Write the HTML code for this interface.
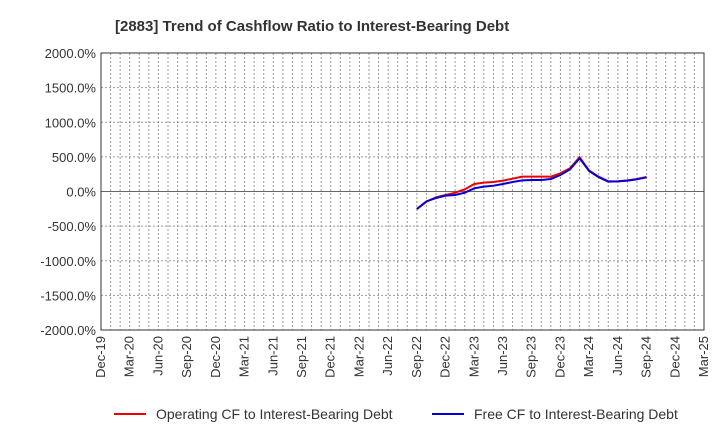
<!DOCTYPE html>
<html><head><meta charset="utf-8"><style>body{margin:0;background:#fff;}svg text{font-family:"Liberation Sans",Arial,sans-serif;}</style></head>
<body>
<svg id="chart" width="720" height="440" xmlns="http://www.w3.org/2000/svg">
<text x="115" y="31" font-size="15" font-weight="bold" fill="#333">[2883]  Trend of Cashflow Ratio to Interest-Bearing Debt</text>
<g id="grid"></g><g id="axes"></g><g id="series"></g>
<g>
<line x1="114" y1="414" x2="146" y2="414" stroke="#e00" stroke-width="2"/>
<text x="156" y="419" font-size="14" fill="#333">Operating CF to Interest-Bearing Debt</text>
<line x1="432" y1="414" x2="464" y2="414" stroke="#00d" stroke-width="2"/>
<text x="474" y="419" font-size="14" fill="#333">Free CF to Interest-Bearing Debt</text>
</g>
</svg>
<script>
const yTicks=[2000,1500,1000,500,0,-500,-1000,-1500,-2000];
const xLabels=["Dec-19","Mar-20","Jun-20","Sep-20","Dec-20","Mar-21","Jun-21","Sep-21","Dec-21","Mar-22","Jun-22","Sep-22","Dec-22","Mar-23","Jun-23","Sep-23","Dec-23","Mar-24","Jun-24","Sep-24","Dec-24","Mar-25"];
const startMonth=33;
const operatingCF=[-253,-147,-84,-51,-17,31,108,128,137,157,185,214,214,214,214,263,335,494,301,214,147,147,161,181,210];
const freeCF=[-253,-142,-94,-60,-51,-17,46,70,84,108,137,161,166,166,181,238,320,479,296,205,142,147,157,176,205];
const L=101,R=704,T=53,B=330,NM=63;
const NS="http://www.w3.org/2000/svg";
const xS=m=>L+(R-L)*m/NM;
const yS=v=>T+(B-T)*(2000-v)/4000;
function mk(t,a,p){const e=document.createElementNS(NS,t);for(const k in a)e.setAttribute(k,a[k]);p.appendChild(e);return e;}
const grid=document.getElementById('grid'),axes=document.getElementById('axes'),ser=document.getElementById('series');
for(let m=1;m<NM;m++){const l=mk('line',{x1:xS(m),x2:xS(m),y1:T,y2:B,stroke:'#999','stroke-dasharray':'2,2','stroke-width':1},grid);

}
yTicks.forEach(v=>{const y=yS(v);
const l=mk('line',{x1:L,x2:R,y1:y,y2:y,stroke:v===0?'#666':'#999','stroke-dasharray':v===0?'':'2,2','stroke-width':1},grid);


const t=mk('text',{x:L-5,y:y+5,'text-anchor':'end','font-size':13,fill:'#333'},axes);t.textContent=v.toFixed(1)+'%';

});
const fr=mk('rect',{x:L,y:T,width:R-L,height:B-T,fill:'none',stroke:'#333'},axes);


xLabels.forEach((s,i)=>{const x=xS(i*3);
const t=mk('text',{x:x+4,y:B+6,'text-anchor':'end','font-size':13,fill:'#333',transform:`rotate(-90 ${x+4} ${B+6})`},axes);t.textContent=s;

});
function line(d,c,n){const p=mk('polyline',{points:d.map((v,i)=>xS(startMonth+i)+','+yS(v)).join(' '),fill:'none',stroke:c,'stroke-width':2},ser);

}
line(operatingCF,'#e00','operating-cf-line');
line(freeCF,'#00d','free-cf-line');
</script>
</body></html>
